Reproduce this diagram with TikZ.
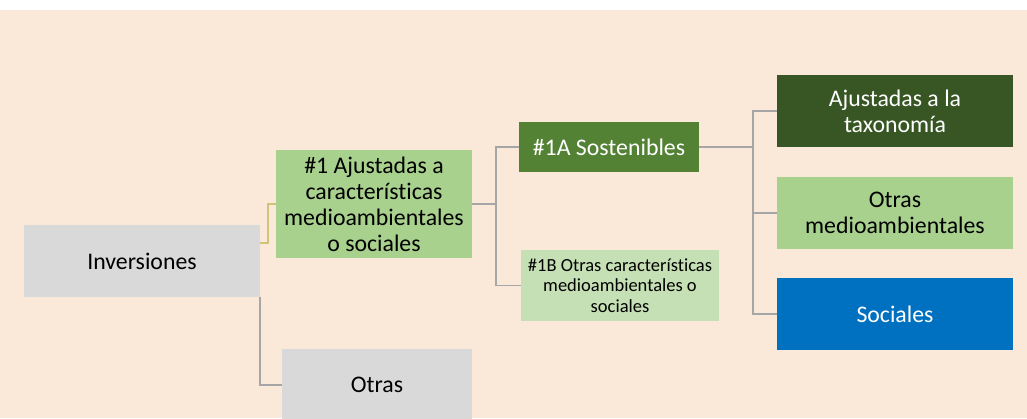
\documentclass[tikz,border=0pt]{standalone}
\usepackage{fontspec}
\setmainfont{Carlito}[Ligatures={NoCommon,NoRequired,NoContextual}]
\definecolor{bgpeach}{HTML}{FAE8D8}
\definecolor{boxgray}{HTML}{D9D9D9}
\definecolor{lgreen}{HTML}{A9D18E}
\definecolor{mgreen}{HTML}{548235}
\definecolor{pgreen}{HTML}{C5E0B4}
\definecolor{dgreen}{HTML}{375623}
\definecolor{mblue}{HTML}{0070C0}
\definecolor{linegray}{HTML}{A6A6A6}
\definecolor{lineyel}{HTML}{CFC47C}
\tikzset{
  box/.style={rectangle, inner sep=0pt, align=center, font=\fontsize{23.8}{26}\selectfont},
  smallbox/.style={rectangle, inner sep=0pt, align=center, font=\fontsize{18.5}{20.7}\selectfont},
  conn/.style={draw=linegray, line width=1.5pt},
  connY/.style={draw=lineyel, line width=1.5pt},
}
\begin{document}
\begin{tikzpicture}[x=1pt,y=-1pt]
\useasboundingbox (0,0) rectangle (1027,418);
\fill[white] (0,0) rectangle (1027,418);
\fill[bgpeach] (0,10) rectangle (1027,418);

\node[box, fill=boxgray, minimum width=236pt, minimum height=72pt] (inv) at (142,261) {Inversiones};
\node[box, fill=lgreen, minimum width=196pt, minimum height=108pt] (n1) at (374,204) {\#1 Ajustadas a\\caracter\'isticas\\medioambientales\\o sociales};
\node[box, fill=boxgray, minimum width=190pt, minimum height=72pt] (otras) at (377,385) {Otras};
\node[box, fill=mgreen, text=white, minimum width=180pt, minimum height=50pt] (s1a) at (609,147) {\#1A Sostenibles};
\node[smallbox, fill=pgreen, minimum width=198pt, minimum height=71pt] (s1b) at (620,285.5) {\#1B Otras caracter\'isticas\\medioambientales o\\sociales};
\node[box, fill=dgreen, text=white, minimum width=236pt, minimum height=72pt] (r1) at (895,111) {Ajustadas a la\\taxonom\'ia};
\node[box, fill=lgreen, minimum width=236pt, minimum height=72pt] (r2) at (895,213) {Otras\\medioambientales};
\node[box, fill=mblue, text=white, minimum width=236pt, minimum height=72pt] (r3) at (895,314) {Sociales};

\draw[connY] ([yshift=18pt]inv.east) -- ++(8,0) |- (n1.west);
\draw[conn] (inv.south east) |- (otras.west);
\draw[conn] (n1.east) -- ++(24,0) |- (s1a.west);
\draw[conn] (n1.east) -- ++(24,0) |- (s1b.west);
\draw[conn] (s1a.east) -- ++(54,0) |- (r1.west);
\draw[conn] (s1a.east) -- ++(54,0) |- (r2.west);
\draw[conn] (s1a.east) -- ++(54,0) |- (r3.west);
\end{tikzpicture}
\end{document}
